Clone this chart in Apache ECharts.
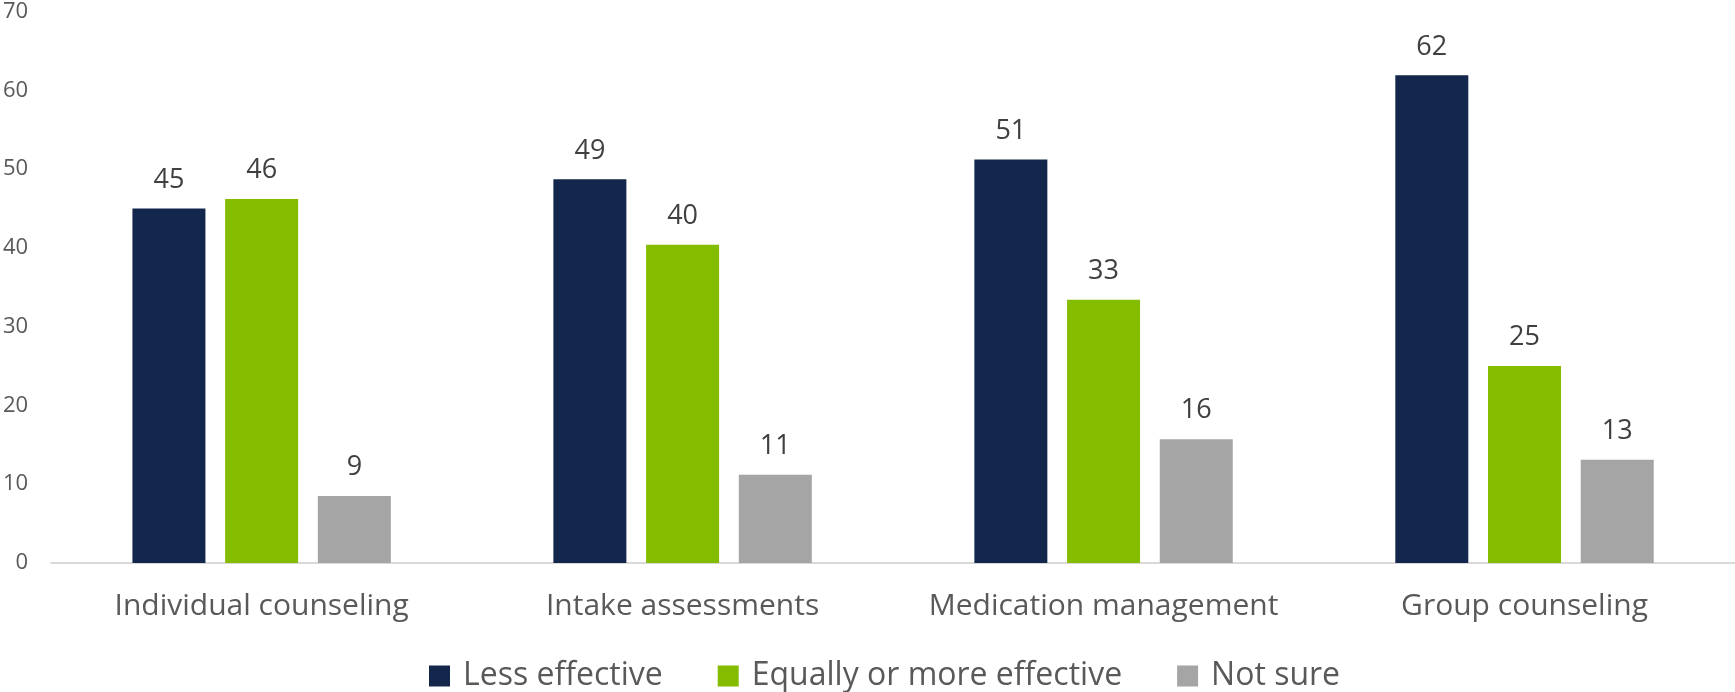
<!DOCTYPE html>
<html>
<head>
<meta charset="utf-8">
<script src="https://cdn.jsdelivr.net/npm/echarts@6/dist/echarts.min.js"></script>
<style>
html,body{margin:0;padding:0;background:#fff;}
#chart{width:1735px;height:692px;}
</style>
</head>
<body>
<div id="chart"></div>
<script>
const categories = ['Individual counseling', 'Intake assessments', 'Medication management', 'Group counseling'];
const lessEffective = [45.0, 48.7, 51.2, 61.9];
const equallyOrMore = [46.2, 40.4, 33.4, 25.0];
const notSure = [8.5, 11.2, 15.7, 13.1];
const seriesNames = ['Less effective', 'Equally or more effective', 'Not sure'];
const yTicks = { min: 0, max: 70, interval: 10 };

const colors = ['#13264B', '#84BD00', '#A5A5A5'];
const font = '"Open Sans", "Noto Sans", sans-serif';

function mk(name, data, color) {
  return {
    name: name,
    type: 'bar',
    data: data,
    barWidth: 73,
    barGap: '27%',
    itemStyle: { color: color },
    label: {
      show: true,
      position: 'top',
      distance: 15,
      fontFamily: font,
      fontSize: 27,
      color: '#404040',
      formatter: p => Math.round(p.value)
    }
  };
}

const chart = echarts.init(document.getElementById('chart'), null, { renderer: 'canvas' });
chart.setOption({
  animation: false,
  backgroundColor: '#fff',
  color: colors,
  grid: { left: 49, right: 0, top: 11.5, bottom: 129, containLabel: false },
  legend: {
    data: seriesNames,
    top: 655,
    left: 424,
    itemWidth: 21,
    itemHeight: 21,
    itemGap: 55,
    icon: 'rect',
    textStyle: { fontFamily: font, fontSize: 32, color: '#595959', padding: [0, 0, 0, 8] }
  },
  xAxis: {
    type: 'category',
    data: categories,
    axisLine: { lineStyle: { color: '#D9D9D9', width: 2 } },
    axisTick: { show: false },
    axisLabel: { interval: 0, hideOverlap: false, fontFamily: font, fontSize: 30, color: '#595959', margin: 28 }
  },
  yAxis: {
    type: 'value',
    min: yTicks.min,
    max: yTicks.max,
    interval: yTicks.interval,
    splitLine: { show: false },
    axisLine: { show: false },
    axisTick: { show: false },
    axisLabel: { fontFamily: font, fontSize: 22, color: '#595959', margin: 23 }
  },
  series: [
    mk(seriesNames[0], lessEffective, colors[0]),
    mk(seriesNames[1], equallyOrMore, colors[1]),
    mk(seriesNames[2], notSure, colors[2])
  ]
});
</script>
</body>
</html>
